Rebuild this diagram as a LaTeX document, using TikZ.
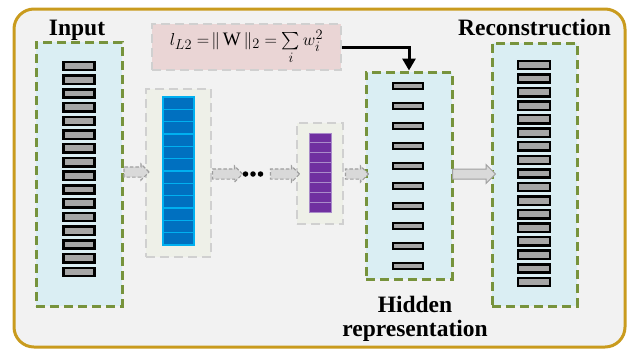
\documentclass[tikz,border=0pt]{standalone}
\usepackage{amsmath}
\usepackage{fontspec}
\setmainfont{Liberation Serif}
\usetikzlibrary{shapes.arrows, arrows.meta, positioning}
\definecolor{framegold}{HTML}{C99B1E}
\definecolor{bggray}{HTML}{F2F2F2}
\definecolor{layerblue}{HTML}{DAEEF3}
\definecolor{layergreen}{HTML}{77933C}
\definecolor{unitgray}{HTML}{A6A6A6}
\definecolor{encfill}{HTML}{EEF0E8}
\definecolor{boxgray}{HTML}{D0D0D0}
\definecolor{lossfill}{HTML}{EAD5D5}
\definecolor{cellblue}{HTML}{0070C0}
\definecolor{cellcyan}{HTML}{00B0F0}
\definecolor{cellpurple}{HTML}{7030A0}
\definecolor{celllilac}{HTML}{A98BC9}

\begin{document}
\begin{tikzpicture}[x=1pt,y=-1pt]
       \tikzstyle{layer} = [rectangle, draw=layergreen, line width=3pt, dash pattern=on 9pt off 5pt, fill=layerblue, minimum width=86pt, inner sep=0pt]
       \tikzstyle{inner} = [rectangle, draw=boxgray, line width=2.8pt, dash pattern=on 9pt off 5pt, fill=encfill, inner sep=0pt]
       \tikzstyle{unit} = [rectangle, draw=black, line width=2.5pt, fill=unitgray, minimum width=31pt, minimum height=8.3pt, inner sep=0pt]
       \tikzstyle{flow} = [single arrow, draw=gray!75, line width=1.1pt, dash pattern=on 3.5pt off 2pt, fill=gray!30, minimum width=15pt, single arrow head extend=3pt, inner sep=4.5pt]
       \tikzstyle{title} = [font=\bfseries\fontsize{23.5}{23.5}\selectfont, inner sep=0pt]
       \useasboundingbox (0,0) rectangle (631,349);
       \draw[draw=framegold, line width=3pt, fill=bggray, rounded corners=20pt] (14,9) rectangle (625,347);

       % layers
       \node[layer, minimum height=264pt] (inbox) at (79,174) {};
       \node[layer, minimum height=207pt] (hidbox) at (409,175.5) {};
       \node[layer, minimum width=85pt, minimum height=263pt] (recbox) at (534.5,174.5) {};
       \node[inner, minimum width=65pt, minimum height=168pt] (encbox) at (178.5,173) {};
       \node[inner, minimum width=46pt, minimum height=101pt] (codebox) at (320,173.5) {};
       \node[rectangle, draw=boxgray, line width=2.8pt, dash pattern=on 9pt off 5pt, fill=lossfill, minimum width=189pt, minimum height=46pt] (loss) at (246.5,47)
         {\fontsize{19}{19}\selectfont $l_{L2} =\!\| \,\mathrm{W}\, \|_2 = \sum\limits_i w_i^2$};

       \foreach \i in {1,...,16}
         \node[unit] (in-\i) at (79,66+13.73*\i-13.73) {};
       \foreach \i in {1,...,17}
         \node[unit, minimum width=32pt] (rec-\i) at (534,65+13.56*\i-13.56) {};
       \foreach \i in {1,...,10}
         \node[unit, minimum width=30pt, minimum height=6pt] (hid-\i) at (408,86+20*\i-20) {};
       \foreach \i in {1,...,12}
         \node[rectangle, draw=cellcyan, line width=1.3pt, fill=cellblue, minimum width=31pt, minimum height=12.33pt, inner sep=0pt] (enc-\i) at (178.5,97+12.33*\i-6.17) {};
       \node[rectangle, draw=cellcyan, line width=2.6pt, minimum width=31pt, minimum height=148pt, inner sep=0pt] (enccol) at (178.5,171) {};
       \foreach \i in {1,...,8}
         \node[rectangle, draw=celllilac, line width=0.9pt, fill=cellpurple, minimum width=22pt, minimum height=9.87pt, inner sep=0pt] (code-\i) at (320,133+9.87*\i-4.94) {};

       % flow between layers
       \node[flow, minimum height=25pt] (a1) at (134,172) {};
       \node[flow, minimum height=30pt] (a2) at (225,174) {};
       \foreach \k in {1,2,3}
         \node[circle, fill=black, minimum size=5.5pt, inner sep=0pt] (dot-\k) at (245.5+7.5*\k-7.5,174) {};
       \node[flow, minimum height=29pt] (a3) at (282.5,174) {};
       \node[flow, minimum height=23pt] (a4) at (354.5,174) {};
       \node[single arrow, draw=gray!75, line width=1pt, fill=gray!30, minimum width=18pt, single arrow head extend=4.5pt, inner sep=4.5pt, minimum height=43pt] (a5) at (471.5,174) {};
       \draw[line width=3pt, -{Triangle[width=13pt,length=12pt]}] (loss.east) -| (hidbox.north);

       % labels
       \node[title, anchor=base] (intitle) at (77,35) {Input};
       \node[title, anchor=base] (rectitle) at (534.5,35) {Reconstruction};
       \node[title, align=center, anchor=north] (hidtitle) at (415,296) {Hidden\\representation};
\end{tikzpicture}
\end{document}
